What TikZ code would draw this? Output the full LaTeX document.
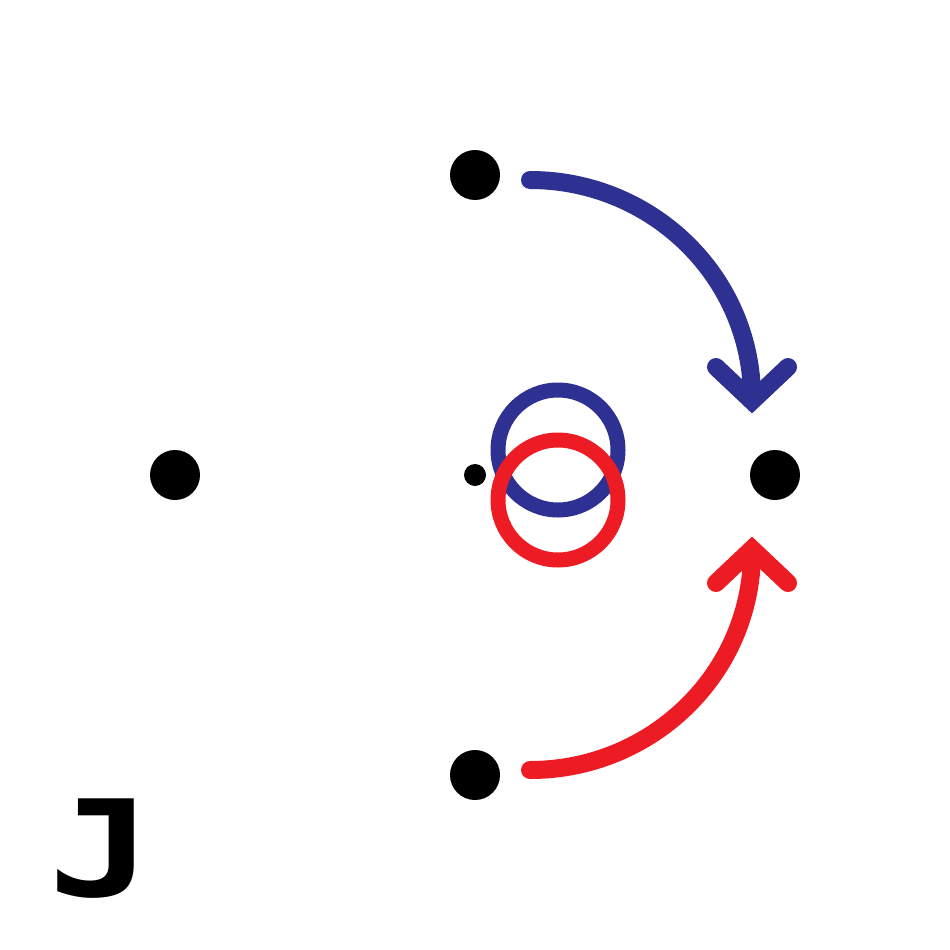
\documentclass[tikz,border=0pt]{standalone}
\usepackage{fontspec}
\newfontfamily\jfont{DejaVu Sans Mono}
\definecolor{myblue}{HTML}{2E3192}
\definecolor{myred}{HTML}{ED1C24}
\begin{document}
\begin{tikzpicture}[x=1pt,y=-1pt,
  bigdot/.style={circle,fill=black,inner sep=0pt,minimum size=50pt},
  smalldot/.style={circle,fill=black,inner sep=0pt,minimum size=22pt},
  ring/.style={line width=15pt},
  arc/.style={line width=18pt,line cap=round},
  chev/.style={line width=18pt,line cap=round,line join=miter}]
\useasboundingbox (0,0) rectangle (950,950);
\node[bigdot] (top) at (475,175) {};
\node[bigdot] (left) at (175,475) {};
\node[bigdot] (right) at (775,475) {};
\node[bigdot] (bot) at (475,775) {};
\node[smalldot] (mid) at (475,475) {};
\draw[ring,myblue] (558,450) circle (60);
\draw[ring,myred] (558,500) circle (60);
% blue arrow
\coordinate (bs) at (530,180);
\draw[arc,myblue] (bs) arc[start angle=90,end angle=0,x radius=222,y radius=-218];
\draw[chev,myblue] (716,367) -- (752,401) -- (788,367);
% red arrow
\coordinate (rs) at (530,770);
\draw[arc,myred] (rs) arc[start angle=-90,end angle=0,x radius=222,y radius=-218];
\draw[chev,myred] (716,583) -- (752,549) -- (788,583);
\node[font=\jfont\bfseries\fontsize{134}{134}\selectfont,inner sep=0pt,xscale=1.3] (J) at (101,849) {J};
\end{tikzpicture}
\end{document}
